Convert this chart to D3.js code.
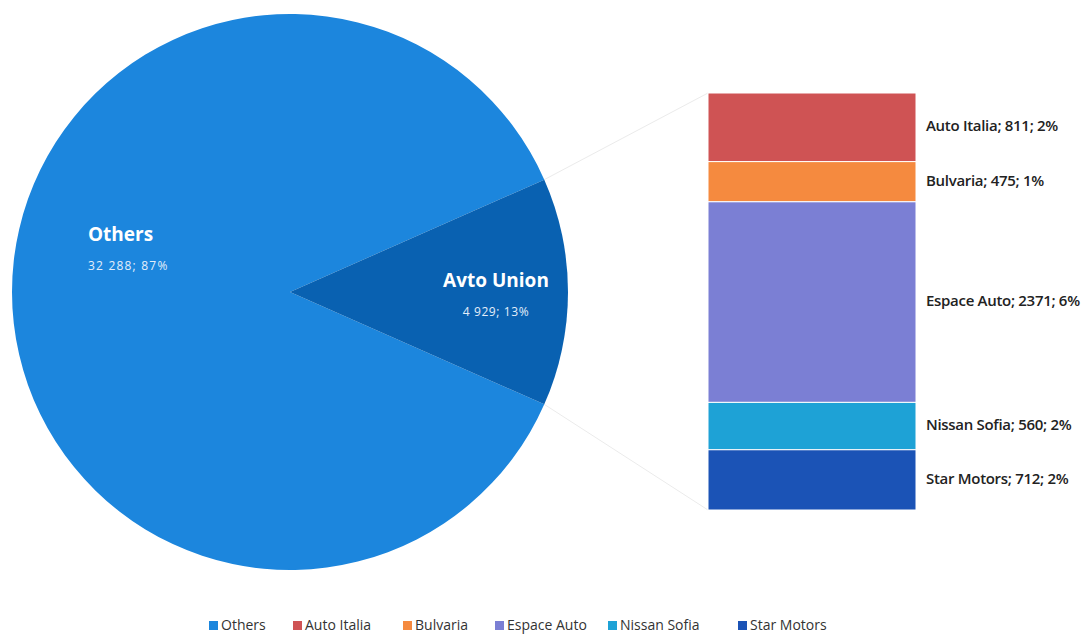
<!DOCTYPE html>
<html>
<head>
<meta charset="utf-8">
<script src="https://cdn.jsdelivr.net/npm/d3@7"></script>
<style>
  body { margin: 0; background: #fff; }
  text { font-family: "Open Sans", "Noto Sans", sans-serif; }
</style>
</head>
<body>
<div id="chart"></div>
<script>
/* pie of pie: market share, Avto Union split into dealers */

const mainLabels = ["Others", "Avto Union"];
const mainValues = [32288, 4929];
const mainColors = ["#1c86dd", "#0961b1"];

const subLabels = ["Auto Italia", "Bulvaria", "Espace Auto", "Nissan Sofia", "Star Motors"];
const subValues = [811, 475, 2371, 560, 712];
const subColors = ["#cf5354", "#f58a3f", "#7b7fd4", "#1ea2d6", "#1b53b6"];

const legendLabels = ["Others", "Auto Italia", "Bulvaria", "Espace Auto", "Nissan Sofia", "Star Motors"];
const legendColors = [mainColors[0]].concat(subColors);

let width = 1090,
    height = 638,
    cx = 290, cy = 292, radius = 278;

const svg = d3.select("#chart")
  .append("svg")
  .attr("width", width)
  .attr("height", height);

let total = d3.sum(mainValues);
let avtoFrac = mainValues[1] / total;
let fmtSpace = v => d3.format(",")(v).replace(/,/g, " ");
let pct = v => Math.round(v / total * 100) + "%";

// rotate so the Avto Union slice points right
let start = Math.PI / 2 - Math.PI * (2 - avtoFrac);
let pie = d3.pie().sort(null).startAngle(start).endAngle(start + 2 * Math.PI);
let arcs = pie(mainValues);
let arc = d3.arc().innerRadius(0).outerRadius(radius);

// connector lines to the bar
let bar = { x0: 708, x1: 916, y0: 93, y1: 510 };
let a1 = arcs[1].startAngle, a2 = arcs[1].endAngle;
let edge = a => [cx + radius * Math.sin(a), cy - radius * Math.cos(a)];
let p1 = edge(a1), p2 = edge(a2);
svg.append("line")
  .attr("x1", p1[0]).attr("y1", p1[1]).attr("x2", bar.x0).attr("y2", bar.y0)
  .attr("stroke", "#ebebeb").attr("stroke-width", 1);
svg.append("line")
  .attr("x1", p2[0]).attr("y1", p2[1]).attr("x2", bar.x0).attr("y2", bar.y1)
  .attr("stroke", "#ebebeb").attr("stroke-width", 1);

let pieG = svg.append("g").attr("transform", `translate(${cx},${cy})`);
pieG.selectAll("path")
  .data(arcs)
  .join("path")
  .attr("d", arc)
  .attr("fill", (d, i) => mainColors[i]);

// pie labels
let labelPos = [[88, 236], [496, 282]];
let nameSize = [19, 19], valueSize = [12, 12];
mainLabels.forEach((name, i) => {
  let anchor = i === 0 ? "start" : "middle";
  svg.append("text")
    .attr("x", labelPos[i][0]).attr("y", labelPos[i][1])
    .attr("text-anchor", anchor)
    .attr("dominant-baseline", "middle")
    .attr("fill", "#fff")
    .attr("font-size", nameSize[i])
    .attr("font-weight", "bold")
    .text(name);
  svg.append("text")
    .attr("x", labelPos[i][0]).attr("y", labelPos[i][1] + 31)
    .attr("text-anchor", anchor)
    .attr("dominant-baseline", "middle")
    .attr("fill", "#e3eefa")
    .attr("font-size", valueSize[i])
    .attr("letter-spacing", i === 0 ? 1.2 : 0.6)
    .text(fmtSpace(mainValues[i]) + "; " + pct(mainValues[i]));
});

// stacked bar for Avto Union
let y = d3.scaleLinear()
  .domain([0, d3.sum(subValues)])
  .range([bar.y0, bar.y1]);

let cum = 0;
let stack = subValues.map(v => { let s = cum; cum += v; return [s, cum]; });

svg.append("g")
  .selectAll("rect")
  .data(stack)
  .join("rect")
  .attr("x", bar.x0)
  .attr("width", bar.x1 - bar.x0)
  .attr("y", d => y(d[0]))
  .attr("height", d => y(d[1]) - y(d[0]))
  .attr("fill", (d, i) => subColors[i])
  .attr("stroke", "#fff")
  .attr("stroke-width", 1);

svg.append("g")
  .selectAll("text")
  .data(stack)
  .join("text")
  .attr("x", 926)
  .attr("y", d => (y(d[0]) + y(d[1])) / 2)
  .attr("dominant-baseline", "middle")
  .attr("fill", "#222")
  .attr("font-size", 15)
  .attr("font-weight", 600)
  .attr("letter-spacing", -0.3)
  .text((d, i) => subLabels[i] + "; " + subValues[i] + "; " + pct(subValues[i]));

// legend
let legendX = [209, 293, 403, 495, 608, 738];
let legend = svg.append("g");
legendLabels.forEach((name, i) => {
  legend.append("rect")
    .attr("x", legendX[i]).attr("y", 621)
    .attr("width", 9).attr("height", 9)
    .attr("fill", legendColors[i]);
  legend.append("text")
    .attr("x", legendX[i] + 12).attr("y", 626)
    .attr("dominant-baseline", "middle")
    .attr("font-size", 14)
    .attr("fill", "#333")
    .text(name);
});
</script>
</body>
</html>
